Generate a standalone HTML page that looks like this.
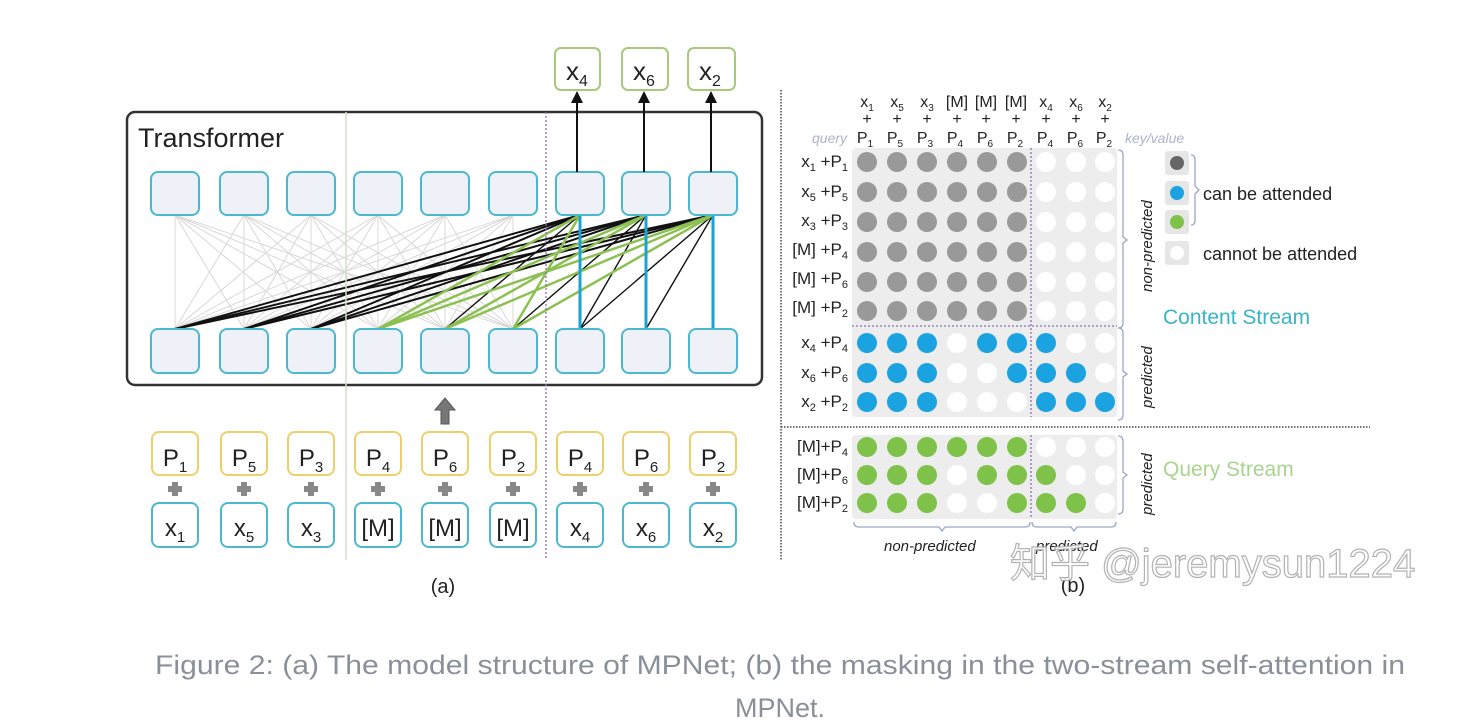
<!DOCTYPE html>
<html><head><meta charset="utf-8"><style>
html,body{margin:0;padding:0;background:#fff;width:1475px;height:726px;overflow:hidden}
svg{display:block}
text{font-family:"Liberation Sans",Arial,sans-serif}
</style></head><body>
<svg id="s" width="1475" height="726" viewBox="0 0 1475 726" xmlns="http://www.w3.org/2000/svg">
<g id="lines"></g>
<rect x="127" y="112" width="635" height="273" rx="8" fill="none" stroke="#333" stroke-width="2.5"/>
<text x="138" y="147" font-size="27" fill="#222">Transformer</text>
<line x1="346" y1="112" x2="346" y2="560" stroke="#cfe0c8" stroke-width="1.5"/>
<line x1="546" y1="112" x2="546" y2="560" stroke="#8a6fb8" stroke-width="1.3" stroke-dasharray="2,2"/>
<g id="boxes"></g>
<g font-size="26" fill="#222">
<rect x="555" y="48" width="45" height="42" rx="6" fill="#fff" stroke="#a8c97a" stroke-width="2"/>
<text x="566" y="80">x<tspan font-size="16" dy="6">4</tspan></text>
<rect x="622" y="48" width="46" height="42" rx="6" fill="#fff" stroke="#a8c97a" stroke-width="2"/>
<text x="633" y="80">x<tspan font-size="16" dy="6">6</tspan></text>
<rect x="688" y="48" width="47" height="42" rx="6" fill="#fff" stroke="#a8c97a" stroke-width="2"/>
<text x="699" y="80">x<tspan font-size="16" dy="6">2</tspan></text>
</g>
<g stroke="#111" stroke-width="2"><line x1="577" y1="172" x2="577" y2="100"/><line x1="644" y1="172" x2="644" y2="100"/><line x1="711" y1="172" x2="711" y2="100"/></g>
<g fill="#111"><path d="M577 91 L571 103 L583 103Z"/><path d="M644 91 L638 103 L650 103Z"/><path d="M711 91 L705 103 L717 103Z"/></g>
<path d="M445 398 L435 410 L441 410 L441 424 L449 424 L449 410 L455 410Z" fill="#777" stroke="#555" stroke-width="1"/>
<g font-size="24" fill="#222" text-anchor="middle">
<text x="175" y="466">P<tspan font-size="15" dy="6">1</tspan></text>
<text x="244" y="466">P<tspan font-size="15" dy="6">5</tspan></text>
<text x="311" y="466">P<tspan font-size="15" dy="6">3</tspan></text>
<text x="378" y="466">P<tspan font-size="15" dy="6">4</tspan></text>
<text x="445" y="466">P<tspan font-size="15" dy="6">6</tspan></text>
<text x="513" y="466">P<tspan font-size="15" dy="6">2</tspan></text>
<text x="580" y="466">P<tspan font-size="15" dy="6">4</tspan></text>
<text x="646" y="466">P<tspan font-size="15" dy="6">6</tspan></text>
<text x="713" y="466">P<tspan font-size="15" dy="6">2</tspan></text>
<text x="175" y="536">x<tspan font-size="15" dy="6">1</tspan></text>
<text x="244" y="536">x<tspan font-size="15" dy="6">5</tspan></text>
<text x="311" y="536">x<tspan font-size="15" dy="6">3</tspan></text>
<text x="378" y="536">[M]</text>
<text x="445" y="536">[M]</text>
<text x="513" y="536">[M]</text>
<text x="580" y="536">x<tspan font-size="15" dy="6">4</tspan></text>
<text x="646" y="536">x<tspan font-size="15" dy="6">6</tspan></text>
<text x="713" y="536">x<tspan font-size="15" dy="6">2</tspan></text>
</g>
<text x="443" y="593" font-size="20" fill="#222" text-anchor="middle" font-family="Liberation Serif,serif">(a)</text>

<line x1="781" y1="90" x2="781" y2="560" stroke="#444" stroke-width="1.5" stroke-dasharray="1.5,1.5"/>
<line x1="781" y1="427" x2="1370" y2="427" stroke="#444" stroke-width="1.5" stroke-dasharray="1.5,1.5"/>
<rect x="852" y="148" width="265" height="269" rx="4" fill="#ededed"/>
<rect x="852" y="435" width="265" height="84" rx="4" fill="#ededed"/>
<line x1="852" y1="326" x2="1117" y2="326" stroke="#8a6fb8" stroke-width="1.3" stroke-dasharray="2,2"/>
<line x1="1031" y1="148" x2="1031" y2="417" stroke="#8a6fb8" stroke-width="1.3" stroke-dasharray="2,2"/>
<line x1="1031" y1="435" x2="1031" y2="519" stroke="#8a6fb8" stroke-width="1.3" stroke-dasharray="2,2"/>
<g id="dots"></g>
<g font-size="16" fill="#222" text-anchor="middle">
<text x="867" y="107">x<tspan font-size="10" dy="4">1</tspan></text>
<text x="897" y="107">x<tspan font-size="10" dy="4">5</tspan></text>
<text x="927" y="107">x<tspan font-size="10" dy="4">3</tspan></text>
<text x="957" y="107">[M]</text>
<text x="986" y="107">[M]</text>
<text x="1016" y="107">[M]</text>
<text x="1046" y="107">x<tspan font-size="10" dy="4">4</tspan></text>
<text x="1076" y="107">x<tspan font-size="10" dy="4">6</tspan></text>
<text x="1105" y="107">x<tspan font-size="10" dy="4">2</tspan></text>
<text x="867" y="124">+</text><text x="897" y="124">+</text><text x="927" y="124">+</text><text x="957" y="124">+</text><text x="986" y="124">+</text><text x="1016" y="124">+</text><text x="1046" y="124">+</text><text x="1076" y="124">+</text><text x="1105" y="124">+</text>
<text x="865" y="143">P<tspan font-size="10" dy="4">1</tspan></text>
<text x="895" y="143">P<tspan font-size="10" dy="4">5</tspan></text>
<text x="925" y="143">P<tspan font-size="10" dy="4">3</tspan></text>
<text x="955" y="143">P<tspan font-size="10" dy="4">4</tspan></text>
<text x="985" y="143">P<tspan font-size="10" dy="4">6</tspan></text>
<text x="1015" y="143">P<tspan font-size="10" dy="4">2</tspan></text>
<text x="1045" y="143">P<tspan font-size="10" dy="4">4</tspan></text>
<text x="1075" y="143">P<tspan font-size="10" dy="4">6</tspan></text>
<text x="1104" y="143">P<tspan font-size="10" dy="4">2</tspan></text>
</g>
<text x="812" y="143" font-size="14" fill="#aab4cc" font-style="italic">query</text>
<text x="1125" y="143" font-size="14" fill="#aab4cc" font-style="italic">key/value</text>
<g font-size="17" fill="#222" text-anchor="end">
<text x="848" y="167">x<tspan font-size="11" dy="4">1</tspan><tspan dy="-4"> +P</tspan><tspan font-size="11" dy="4">1</tspan></text>
<text x="848" y="197">x<tspan font-size="11" dy="4">5</tspan><tspan dy="-4"> +P</tspan><tspan font-size="11" dy="4">5</tspan></text>
<text x="848" y="226">x<tspan font-size="11" dy="4">3</tspan><tspan dy="-4"> +P</tspan><tspan font-size="11" dy="4">3</tspan></text>
<text x="848" y="255">[M] +P<tspan font-size="11" dy="4">4</tspan></text>
<text x="848" y="284">[M] +P<tspan font-size="11" dy="4">6</tspan></text>
<text x="848" y="313">[M] +P<tspan font-size="11" dy="4">2</tspan></text>
<text x="848" y="348">x<tspan font-size="11" dy="4">4</tspan><tspan dy="-4"> +P</tspan><tspan font-size="11" dy="4">4</tspan></text>
<text x="848" y="378">x<tspan font-size="11" dy="4">6</tspan><tspan dy="-4"> +P</tspan><tspan font-size="11" dy="4">6</tspan></text>
<text x="848" y="407">x<tspan font-size="11" dy="4">2</tspan><tspan dy="-4"> +P</tspan><tspan font-size="11" dy="4">2</tspan></text>
<text x="848" y="452">[M]+P<tspan font-size="11" dy="4">4</tspan></text>
<text x="848" y="480">[M]+P<tspan font-size="11" dy="4">6</tspan></text>
<text x="848" y="508">[M]+P<tspan font-size="11" dy="4">2</tspan></text>
</g>
<g fill="none" stroke="#9aa8c8" stroke-width="1.3">
<path d="M1118 150 q5 0 5 5 v82 l4 3 l-4 3 v80 q0 5 -5 5"/>
<path d="M1118 328 q5 0 5 5 v38 l4 3 l-4 3 v38 q0 5 -5 5"/>
<path d="M1118 436 q5 0 5 5 v31 l4 3 l-4 3 v31 q0 5 -5 5"/>
<path d="M854 522 q0 5 5 5 h80 l3 4 l3 -4 h80 q5 0 5 -5"/>
<path d="M1032 522 q0 5 5 5 h34 l3 4 l3 -4 h34 q5 0 5 -5"/>
<path d="M1191 155 q4 0 4 5 v26 l4 4 l-4 4 v26 q0 5 -4 5"/>
</g>
<g font-size="15" fill="#222" font-style="italic">
<text transform="translate(1152,292) rotate(-90)">non-predicted</text>
<text transform="translate(1152,408) rotate(-90)">predicted</text>
<text transform="translate(1152,515) rotate(-90)">predicted</text>
<text x="884" y="551">non-predicted</text>
<text x="1036" y="551">predicted</text>
</g>
<g>
<rect x="1165" y="151" width="24" height="24" rx="3" fill="#e6e6e6"/><circle cx="1177" cy="163" r="7" fill="#666"/>
<rect x="1165" y="181" width="24" height="24" rx="3" fill="#e6e6e6"/><circle cx="1177" cy="193" r="7" fill="#1aa3e0"/>
<rect x="1165" y="210" width="24" height="24" rx="3" fill="#e6e6e6"/><circle cx="1177" cy="222" r="7" fill="#7ec24a"/>
<rect x="1165" y="241" width="24" height="24" rx="3" fill="#e6e6e6"/><circle cx="1177" cy="253" r="7" fill="#fff"/>
</g>
<text x="1203" y="200" font-size="18" fill="#222">can be attended</text>
<text x="1203" y="260" font-size="18" fill="#222">cannot be attended</text>
<text x="1163" y="324" font-size="21" fill="#3ab4c8">Content Stream</text>
<text x="1163" y="476" font-size="21" fill="#a8d490">Query Stream</text>
<text x="1073" y="592" font-size="20" fill="#222" text-anchor="middle" font-family="Liberation Serif,serif">(b)</text>
<text x="1010" y="577" font-size="40" fill="#fff" stroke="#aaa" stroke-width="1.2" font-family="Liberation Sans,'Noto Sans CJK SC',sans-serif" opacity="0.9">知乎 @jeremysun1224</text>
<g font-size="27" fill="#8a909a">
<text x="155" y="674" textLength="1250" lengthAdjust="spacingAndGlyphs">Figure 2: (a) The model structure of MPNet; (b) the masking in the two-stream self-attention in</text>
<text x="780" y="717" text-anchor="middle">MPNet.</text>
</g>
</svg>
<script>
var NS="http://www.w3.org/2000/svg";
function el(p,t,a){var e=document.createElementNS(NS,t);for(var k in a)e.setAttribute(k,a[k]);p.appendChild(e);return e;}
var cx=[175,244,311,378,445,513,580,646,713];
var B=document.getElementById('boxes'),L=document.getElementById('lines');
cx.forEach(function(x){
 el(B,'rect',{x:x-24,y:172,width:48,height:43,rx:7,fill:'#eef2f8',stroke:'#4cb8d0','stroke-width':2});
 el(B,'rect',{x:x-24,y:329,width:48,height:44,rx:7,fill:'#eef2f8',stroke:'#4cb8d0','stroke-width':2});
 el(B,'rect',{x:x-23,y:432,width:46,height:43,rx:7,fill:'#fff',stroke:'#efcf6a','stroke-width':2});
 el(B,'rect',{x:x-23,y:503,width:46,height:44,rx:7,fill:'#fff',stroke:'#4cb8d0','stroke-width':2});
 el(B,'path',{d:'M'+(x-3)+' 482 h6 v4 h4 v6 h-4 v4 h-6 v-4 h-4 v-6 h4z',fill:'#888'});
});
var T=215,Bo=329;
for(var i=0;i<6;i++)for(var j=0;j<6;j++)el(L,'line',{x1:cx[i],y1:T,x2:cx[j],y2:Bo,stroke:'#d8d8d8','stroke-width':1});
for(var i=6;i<9;i++){
 for(var j=0;j<3;j++)el(L,'line',{x1:cx[i],y1:T,x2:cx[j],y2:Bo,stroke:'#111','stroke-width':2});
}
var blk=[[6,4],[6,5],[6,6],[7,5],[7,6],[7,3],[8,6],[8,7],[8,4]];
blk.forEach(function(p){el(L,'line',{x1:cx[p[0]],y1:T,x2:cx[p[1]],y2:Bo,stroke:'#111','stroke-width':1.4});});
var gr=[[6,3],[7,3],[7,4],[8,3],[8,4],[8,5],[6,5]];
gr.forEach(function(p){el(L,'line',{x1:cx[p[0]],y1:T,x2:cx[p[1]],y2:Bo,stroke:'#8cc152','stroke-width':2.5});});
for(var i=6;i<9;i++)el(L,'line',{x1:cx[i],y1:T,x2:cx[i],y2:Bo,stroke:'#1aa3d0','stroke-width':3});
var D=document.getElementById('dots');
var mx=[867,897,927,957,987,1017,1046,1076,1105];
var ry=[162,192,222,252,282,311,343,373,402,447,475,503];
var M=["222222000","222222000","222222000","222222000","222222000","222222000",
"111011100","111001110","111000111",
"333333000","333033300","333003330"];
var col={'0':'#fff','1':'#1aa3e0','2':'#999','3':'#7ec24a'};
for(var r=0;r<12;r++)for(var c=0;c<9;c++)el(D,'circle',{cx:mx[c],cy:ry[r],r:10,fill:col[M[r][c]]});
</script>
</body></html>
